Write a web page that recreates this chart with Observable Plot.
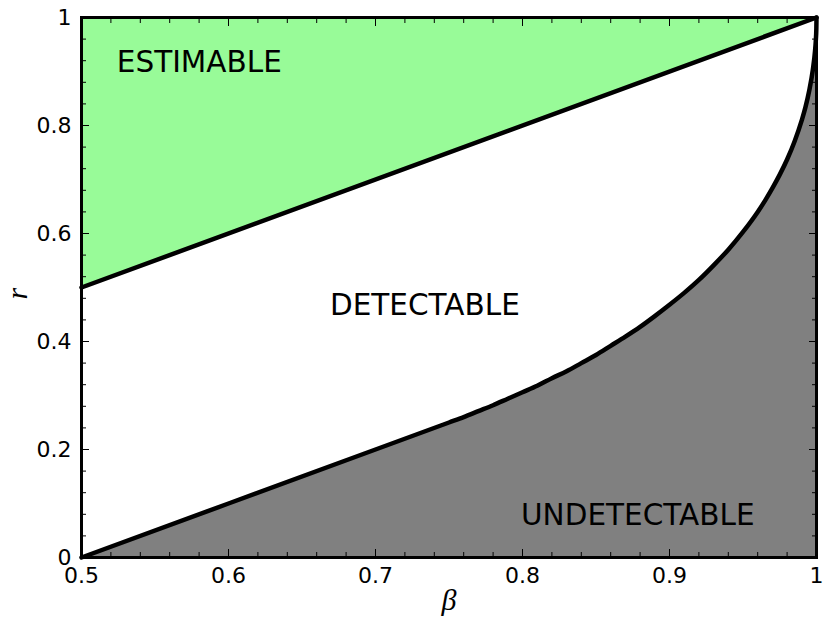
<!DOCTYPE html>
<html>
<head>
<meta charset="utf-8">
<script src="https://cdn.jsdelivr.net/npm/d3@7"></script>
<script src="https://cdn.jsdelivr.net/npm/@observablehq/plot@0.6"></script>
<style>
  html, body { margin: 0; padding: 0; background: #fff; }
  #chart svg { display: block; }
</style>
</head>
<body>
<div id="chart"></div>
<script>
// Upper boundary (estimable / detectable)
const upperBeta = [0.5, 1.0];
const upperR = [0.5, 1.0];

// Lower boundary (detectable / undetectable)
const lowerBeta = [0.5, 0.6, 0.7, 0.75, 0.76, 0.77, 0.78, 0.79, 0.80, 0.81, 0.82, 0.83, 0.84, 0.85, 0.86, 0.87, 0.88, 0.89, 0.90, 0.91, 0.92, 0.93, 0.94, 0.95, 0.96, 0.965, 0.97, 0.975, 0.98, 0.985, 0.99, 0.9925, 0.995, 0.9975, 0.999, 0.9995, 0.9999, 1.0];
const lowerR    = [0.0, 0.1, 0.2, 0.25, 0.260, 0.271, 0.282, 0.294, 0.306, 0.318, 0.332, 0.345, 0.360, 0.375, 0.392, 0.409, 0.427, 0.447, 0.468, 0.490, 0.514, 0.541, 0.570, 0.603, 0.640, 0.661, 0.684, 0.709, 0.737, 0.770, 0.810, 0.834, 0.864, 0.903, 0.938, 0.956, 0.980, 1.0];

// Region labels
const regionLabels = ["ESTIMABLE", "DETECTABLE", "UNDETECTABLE"];
const regionX = [0.524, 0.669, 0.799];
const regionY = [0.9, 0.45, 0.06];

// Tick values
const xMajor = [0.5, 0.6, 0.7, 0.8, 0.9, 1.0];
const xMajorLabels = ["0.5", "0.6", "0.7", "0.8", "0.9", "1"];
const xMinor = [0.52, 0.54, 0.56, 0.58, 0.62, 0.64, 0.66, 0.68, 0.72, 0.74, 0.76, 0.78, 0.82, 0.84, 0.86, 0.88, 0.92, 0.94, 0.96, 0.98];
const yMajor = [0, 0.2, 0.4, 0.6, 0.8, 1.0];
const yMajorLabels = ["0", "0.2", "0.4", "0.6", "0.8", "1"];
const yMinor = [0.04, 0.08, 0.12, 0.16, 0.24, 0.28, 0.32, 0.36, 0.44, 0.48, 0.52, 0.56, 0.64, 0.68, 0.72, 0.76, 0.84, 0.88, 0.92, 0.96];

const upper = upperBeta.map((b, i) => ({b, r: upperR[i]}));
const lower = lowerBeta.map((b, i) => ({b, r: lowerR[i]}));
const labels = regionLabels.map((t, i) => ({t, x: regionX[i], y: regionY[i]}));

const fmtX = d => xMajorLabels[xMajor.indexOf(d)];
const fmtY = d => yMajorLabels[yMajor.indexOf(d)];

const FONT = "DejaVu Sans";
const tickOnly = {fill: "none", label: null, stroke: "black"};

const chart = Plot.plot({
  width: 830,
  height: 634,
  marginLeft: 81,
  marginRight: 14,
  marginTop: 17,
  marginBottom: 77,
  style: {fontFamily: FONT, background: "#fff"},
  x: {domain: [0.5, 1]},
  y: {domain: [0, 1]},
  marks: [
    Plot.areaY(upper, {x: "b", y1: "r", y2: 1, fill: "#98fb98"}),
    Plot.areaY(lower, {x: "b", y1: 0, y2: "r", fill: "#808080", curve: "monotone-x"}),
    Plot.line(upper, {x: "b", y: "r", stroke: "black", strokeWidth: 4.5}),
    Plot.line(lower, {x: "b", y: "r", stroke: "black", strokeWidth: 4.5, curve: "monotone-x"}),
    Plot.text(labels, {x: "x", y: "y", text: "t", textAnchor: "start", lineAnchor: "bottom", fontSize: 29.5, fill: "black"}),
    // inward ticks
    Plot.axisX({anchor: "bottom", ticks: xMajor, tickSize: -8, ...tickOnly}),
    Plot.axisX({anchor: "top", ticks: xMajor, tickSize: -8, ...tickOnly}),
    Plot.axisX({anchor: "bottom", ticks: xMinor, tickSize: -5, ...tickOnly}),
    Plot.axisX({anchor: "top", ticks: xMinor, tickSize: -5, ...tickOnly}),
    Plot.axisY({anchor: "left", ticks: yMajor, tickSize: -8, ...tickOnly}),
    Plot.axisY({anchor: "right", ticks: yMajor, tickSize: -8, ...tickOnly}),
    Plot.axisY({anchor: "left", ticks: yMinor, tickSize: -5, ...tickOnly}),
    Plot.axisY({anchor: "right", ticks: yMinor, tickSize: -5, ...tickOnly}),
    // tick labels
    Plot.axisX({anchor: "bottom", ticks: xMajor, tickSize: 0, tickPadding: 10, tickFormat: fmtX, label: null, fontSize: 22, fill: "black"}),
    Plot.axisY({anchor: "left", ticks: yMajor, tickSize: 0, tickPadding: 10, tickFormat: fmtY, label: null, fontSize: 22, fill: "black"}),
    Plot.frame({stroke: "black", strokeWidth: 3}),
    // axis titles
    Plot.text(["β"], {frameAnchor: "bottom", dy: 52, fontSize: 30, fontStyle: "italic", fontFamily: "Liberation Serif", fill: "black"}),
    Plot.text(["r"], {frameAnchor: "left", dx: -64, dy: 12, rotate: -90, fontSize: 30, fontStyle: "italic", fontFamily: "Liberation Serif", fill: "black"})
  ]
});

document.getElementById("chart").appendChild(chart);
</script>
</body>
</html>
